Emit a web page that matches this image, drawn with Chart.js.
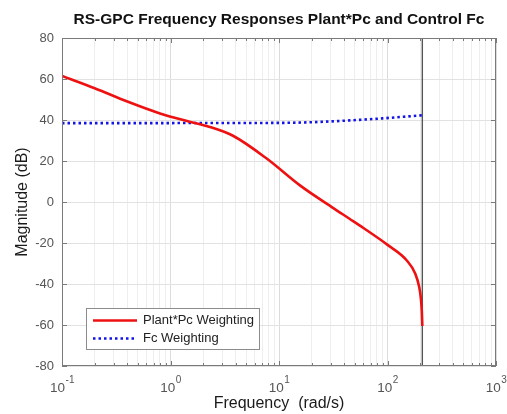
<!DOCTYPE html>
<html>
<head>
<meta charset="utf-8">
<script src="https://cdn.jsdelivr.net/npm/chart.js@4.4.1/dist/chart.umd.min.js"></script>
<style>
  html, body { margin: 0; padding: 0; background: #fff; }
  #wrap { width: 507px; height: 414px; }
</style>
</head>
<body>
<div id="wrap"><canvas id="bode" width="507" height="414"></canvas></div>
<script>
// (rad/s, dB)
const plantFreq = [0.1, 0.2, 0.4, 0.8, 1.5, 2.3, 3.8, 7.7, 15.6, 31.7, 45, 60, 100, 150, 180, 196, 203, 207, 209.4];
const plantMag = [61.5, 55.5, 49, 43.2, 39.2, 36.6, 32.2, 21.2, 8.1, -3.0, -8.3, -12.7, -20.9, -28.4, -34.9, -41.5, -47, -53, -60.5];
const fcFreq = [0.1, 1, 10, 20, 45, 90, 150, 209.4];
const fcMag = [38.5, 38.5, 38.6, 38.9, 39.8, 40.8, 41.7, 42.3];
const nyquistFreq = [209.4, 209.4];
const nyquistMag = [-80, 80];

const seriesLabels = ["Plant*Pc Weighting", "Fc Weighting"];
const xDecades = [0.1, 1, 10, 100, 1000];
const xExponents = ["-1", "0", "1", "2", "3"];
const yTicks = [-80, -60, -40, -20, 0, 20, 40, 60, 80];

const FONT = "'Liberation Sans', Arial, Helvetica, sans-serif";
Chart.defaults.font.family = FONT;

const toPoints = (xs, ys) => xs.map((v, i) => ({ x: v, y: ys[i] }));
const isDecade = v => Math.abs(Math.log10(v) - Math.round(Math.log10(v))) < 1e-6;

const matlabAxes = {
    id: "matlabAxes",
    afterDatasetsDraw(chart) {
        const { ctx, chartArea: a, scales: { x, y } } = chart;
        ctx.save();
        ctx.strokeStyle = "#7a7a7a";
        ctx.lineWidth = 1;
        ctx.beginPath();
        x.ticks.forEach(t => {
            const px = Math.round(x.getPixelForValue(t.value)) + 0.5;
            const len = isDecade(t.value) ? 5 : 3;
            ctx.moveTo(px, a.bottom); ctx.lineTo(px, a.bottom - len);
            ctx.moveTo(px, a.top); ctx.lineTo(px, a.top + len);
        });
        y.ticks.forEach(t => {
            const py = Math.round(y.getPixelForValue(t.value)) + 0.5;
            ctx.moveTo(a.left, py); ctx.lineTo(a.left + 5, py);
            ctx.moveTo(a.right, py); ctx.lineTo(a.right - 5, py);
        });
        ctx.stroke();
        ctx.strokeRect(Math.round(a.left) + 0.5, Math.round(a.top) + 0.5,
            Math.round(a.right - a.left) - 1, Math.round(a.bottom - a.top) - 1);

        // decade labels with superscripts
        ctx.fillStyle = "#555";
        ctx.textBaseline = "middle";
        ctx.textAlign = "left";
        xDecades.forEach((d, i) => {
            const px = x.getPixelForValue(d);
            ctx.font = "13.5px " + FONT;
            const wb = ctx.measureText("10").width;
            ctx.font = "10px " + FONT;
            const we = ctx.measureText(xExponents[i]).width;
            const x0 = px - (wb + we) / 2;
            ctx.font = "13.5px " + FONT;
            ctx.fillText("10", x0, a.bottom + 22);
            ctx.font = "10px " + FONT;
            ctx.fillText(xExponents[i], x0 + wb + 0.5, a.bottom + 14);
        });
        ctx.restore();
    },
    afterDraw(chart) {
        const { ctx, chartArea: a } = chart;
        const bx = a.left + 24, by = a.bottom - 58, bw = 173, bh = 41;
        ctx.save();
        ctx.fillStyle = "#fff";
        ctx.fillRect(bx, by, bw, bh);
        ctx.strokeStyle = "#8c8c8c";
        ctx.lineWidth = 1;
        ctx.strokeRect(bx + 0.5, by + 0.5, bw, bh);
        ctx.font = "13px " + FONT;
        ctx.textBaseline = "middle";
        ctx.fillStyle = "#222";
        seriesLabels.forEach((label, i) => {
            const ds = chart.data.datasets[i];
            const ly = by + 12.5 + i * 18;
            ctx.beginPath();
            ctx.strokeStyle = ds.borderColor;
            ctx.lineWidth = ds.borderWidth;
            ctx.setLineDash(ds.borderDash || []);
            ctx.moveTo(bx + 7, ly);
            ctx.lineTo(bx + 51, ly);
            ctx.stroke();
            ctx.setLineDash([]);
            ctx.fillText(label, bx + 57, ly);
        });
        ctx.restore();
    }
};

new Chart(document.getElementById("bode"), {
    type: "line",
    data: {
        datasets: [
            {
                label: seriesLabels[0],
                data: toPoints(plantFreq, plantMag),
                borderColor: "#ee1111",
                borderWidth: 2.6,
                pointRadius: 0,
                cubicInterpolationMode: "monotone"
            },
            {
                label: seriesLabels[1],
                data: toPoints(fcFreq, fcMag),
                borderColor: "#1414e6",
                borderWidth: 2.6,
                borderDash: [2.5, 3],
                pointRadius: 0,
                cubicInterpolationMode: "monotone"
            },
            {
                label: "nyquist",
                data: toPoints(nyquistFreq, nyquistMag),
                borderColor: "#555",
                borderWidth: 1.4,
                pointRadius: 0
            }
        ]
    },
    options: {
        responsive: false,
        animation: false,
        devicePixelRatio: 1,
        layout: { padding: { left: 0, right: 11, top: 0, bottom: 0 } },
        scales: {
            x: {
                type: "logarithmic",
                min: 0.1,
                max: 1000,
                afterBuildTicks: scale => {
                    const ticks = [];
                    xDecades.slice(0, -1).forEach(d => {
                        for (let m = 1; m < 10; m++) ticks.push({ value: d * m });
                    });
                    ticks.push({ value: xDecades[xDecades.length - 1] });
                    scale.ticks = ticks;
                },
                afterFit: scale => { scale.height = 48; },
                ticks: { display: false },
                grid: {
                    drawTicks: false,
                    color: c => (c.tick && isDecade(c.tick.value)) ? "#dcdcdc" : "#eeeeee"
                },
                border: { display: false },
                title: {
                    display: true,
                    text: "Frequency  (rad/s)",
                    color: "#1a1a1a",
                    font: { size: 16 },
                    padding: { top: 0, bottom: 1 }
                }
            },
            y: {
                min: -80,
                max: 80,
                afterBuildTicks: scale => { scale.ticks = yTicks.map(v => ({ value: v })); },
                afterFit: scale => { scale.width = 62; },
                ticks: { color: "#555", font: { size: 13 }, padding: 8 },
                grid: { drawTicks: false, color: "#e2e2e2" },
                border: { display: false },
                title: {
                    display: true,
                    text: "Magnitude (dB)",
                    color: "#1a1a1a",
                    font: { size: 16 },
                    padding: { top: 13, bottom: 0 }
                }
            }
        },
        plugins: {
            legend: { display: false },
            tooltip: { enabled: false },
            title: {
                display: true,
                fullSize: false,
                text: "RS-GPC Frequency Responses Plant*Pc and Control Fc",
                color: "#111",
                font: { size: 15.5, weight: "bold", lineHeight: 1.2 },
                padding: { top: 10, bottom: 9.4 }
            }
        }
    },
    plugins: [matlabAxes]
});
</script>
</body>
</html>
